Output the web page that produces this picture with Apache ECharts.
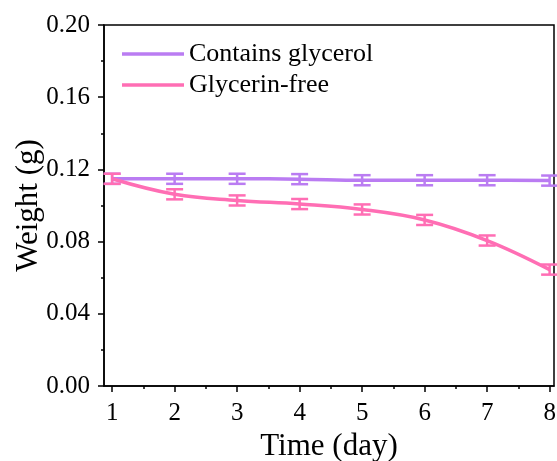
<!DOCTYPE html>
<html><head><meta charset="utf-8">
<script src="https://cdn.jsdelivr.net/npm/echarts@6/dist/echarts.min.js"></script>
<style>html,body{margin:0;padding:0;background:#fff}#c{width:557px;height:461px}</style>
</head><body><div id="c"></div>
<script>
const days = [1, 2, 3, 4, 5, 6, 7, 8];
const glycerol = [0.1148, 0.1148, 0.1148, 0.1146, 0.1140, 0.1140, 0.1140, 0.1138];
const glycerolErr = [0.0028, 0.0028, 0.0028, 0.0028, 0.0028, 0.0028, 0.0028, 0.0028];
const free = [0.1148, 0.1062, 0.1028, 0.1008, 0.0978, 0.0920, 0.0806, 0.0645];
const freeErr = [0.0028, 0.0028, 0.0028, 0.0028, 0.0028, 0.0028, 0.0028, 0.0028];
const minorX = [1.5, 2.5, 3.5, 4.5, 5.5, 6.5, 7.5];

const purple = '#BA7CF2';
const pink = '#FF6EB4';
const font = '"Liberation Serif", "Times New Roman", serif';

function errData(vals, errs) {
  return days.map((d, i) => [d, vals[i] - errs[i], vals[i] + errs[i]]);
}
function errRender(color) {
  return function (params, api) {
    const x = api.value(0);
    const lo = api.coord([x, api.value(1)]);
    const hi = api.coord([x, api.value(2)]);
    const w = 8.5;
    const style = { stroke: color, lineWidth: 2.5, fill: null };
    return {
      type: 'group',
      children: [
        { type: 'line', shape: { x1: lo[0], y1: lo[1], x2: hi[0], y2: hi[1] }, style },
        { type: 'line', shape: { x1: lo[0] - w, y1: lo[1], x2: lo[0] + w, y2: lo[1] }, style },
        { type: 'line', shape: { x1: hi[0] - w, y1: hi[1], x2: hi[0] + w, y2: hi[1] }, style }
      ]
    };
  };
}

const chart = echarts.init(document.getElementById('c'), null, { renderer: 'canvas' });
const xMin = 0.87, xMax = 8.07;
chart.setOption({
  animation: false,
  backgroundColor: '#fff',
  grid: { left: 104, right: 3, top: 25, bottom: 75, outerBoundsMode: 'none', containLabel: false,
    show: true, borderColor: '#000', borderWidth: 1.5, backgroundColor: 'transparent' },
  legend: {
    data: ['Contains glycerol', 'Glycerin-free'],
    orient: 'vertical', left: 117, top: 36, itemGap: 5,
    icon: 'rect', itemWidth: 62, itemHeight: 3.5,
    textStyle: { fontFamily: font, fontSize: 26, color: '#000' }
  },
  xAxis: [{
    type: 'value', min: xMin, max: xMax,
    name: 'Time (day)', nameLocation: 'middle', nameGap: 42,
    nameTextStyle: { fontFamily: font, fontSize: 31, color: '#000' },
    axisLine: { lineStyle: { color: '#000', width: 1.5 } },
    axisTick: { show: true, inside: false, length: 6, lineStyle: { color: '#000', width: 1.5 }, customValues: days },
    axisLabel: { customValues: days, fontFamily: font, fontSize: 25, color: '#000', margin: 15 },
    splitLine: { show: false }
  }, {
    type: 'value', min: xMin, max: xMax, position: 'bottom',
    axisLine: { show: false },
    axisTick: { show: true, inside: false, length: 3, lineStyle: { color: '#000', width: 1.5 }, customValues: minorX },
    axisLabel: { show: false, customValues: minorX },
    splitLine: { show: false }
  }],
  yAxis: {
    type: 'value', min: 0, max: 0.2, interval: 0.04,
    name: 'Weight (g)', nameLocation: 'middle', nameGap: 60, nameMoveOverlap: false,
    nameTextStyle: { fontFamily: font, fontSize: 31, color: '#000' },
    axisLine: { show: true, lineStyle: { color: '#000', width: 1.5 } },
    axisTick: { show: true, inside: false, length: 6, lineStyle: { color: '#000', width: 1.5 } },
    minorTick: { show: true, splitNumber: 2, length: 3, lineStyle: { color: '#000', width: 1.5 } },
    axisLabel: { fontFamily: font, fontSize: 25, color: '#000', margin: 14, formatter: v => v.toFixed(2) },
    splitLine: { show: false }
  },
  series: [
    { name: 'Contains glycerol', type: 'line', smooth: 0.4, symbol: 'none', color: purple,
      lineStyle: { width: 3.5, color: purple }, data: days.map((d, i) => [d, glycerol[i]]), z: 3 },
    { name: 'Glycerin-free', type: 'line', smooth: 0.4, symbol: 'none', color: pink,
      lineStyle: { width: 3.5, color: pink }, data: days.map((d, i) => [d, free[i]]), z: 3 },
    { name: 'glyErr', type: 'custom', renderItem: errRender(purple), data: errData(glycerol, glycerolErr), z: 4, encode: { x: 0, y: [1, 2] } },
    { name: 'freeErr', type: 'custom', renderItem: errRender(pink), data: errData(free, freeErr), z: 4, encode: { x: 0, y: [1, 2] } }
  ]
});
</script></body></html>
